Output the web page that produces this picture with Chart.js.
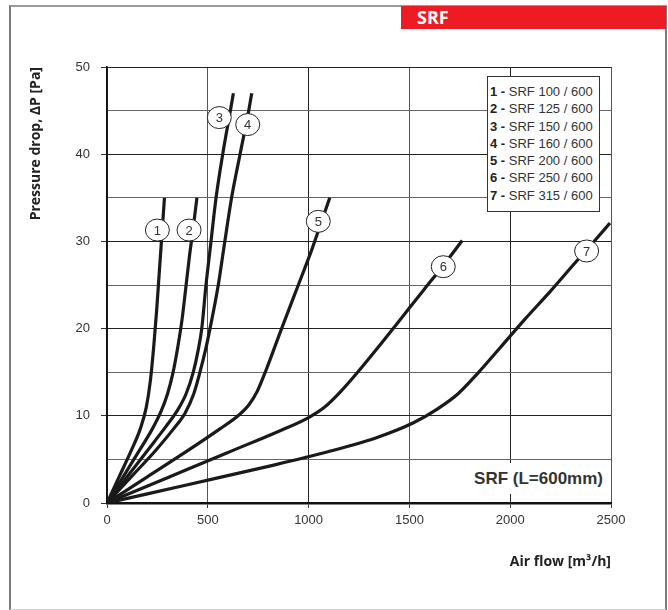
<!DOCTYPE html>
<html><head><meta charset="utf-8">
<script src="https://cdn.jsdelivr.net/npm/chart.js@4.4.1/dist/chart.umd.min.js"></script>
<style>
html,body{margin:0;padding:0;background:#fff;}
#wrap{position:relative;width:668px;height:610px;overflow:hidden;background:#fff;}
#c{position:absolute;left:0;top:0;}
#frame{position:absolute;left:9px;top:5px;width:658px;height:605px;border-left:2px solid #7a7a7a;border-top:2px solid #9a9a9a;border-right:2px solid #7a7a7a;border-bottom:1px solid #cfcfcf;box-sizing:border-box;pointer-events:none;}
#hdr{position:absolute;left:401px;top:6px;width:265px;height:23px;background:#ed1c24;color:#fff;font:bold 18px "Open Sans";line-height:23px;padding-left:16px;box-sizing:border-box;}
#legend{position:absolute;left:487px;top:76px;width:113px;height:136px;background:#fff;border:1px solid #333;box-sizing:border-box;padding:6px 0 0 2px;font:13px "Liberation Sans";color:#333;}
#legend div{height:17.3px;line-height:17.3px;white-space:nowrap;}
#legend b{font-weight:bold;color:#222;}
#note{position:absolute;left:467px;top:463px;width:141px;height:31px;background:#fff;font:bold 17px "Liberation Sans";color:#333;line-height:31px;text-align:right;padding-right:5px;box-sizing:border-box;}
</style></head>
<body>
<div id="wrap">
<canvas id="c" width="668" height="610"></canvas>
<div id="frame"></div>
<div id="hdr">SRF</div>
<div id="legend"></div>
<div id="note">SRF (L=600mm)</div>
</div>
<script>
// Air flow [m3/h] and pressure drop [Pa] for each model
const flow1 = [0, 60, 120, 165, 195, 215, 232, 246, 258, 270, 285];
const drop1 = [0, 3, 6, 8.5, 11, 14, 18, 22, 26, 30, 35];
const flow2 = [0, 80, 160, 225, 268, 300, 328, 352, 372, 390, 410, 430, 446];
const drop2 = [0, 3, 6, 8.5, 10.5, 12.5, 15, 18, 21, 24.5, 28.5, 32, 35];
const flow3 = [0, 100, 200, 290, 346, 392, 428, 452, 470, 491, 511, 541, 574, 612, 627];
const drop3 = [0, 3, 6, 8.7, 10.5, 12.5, 15, 17.5, 20, 25, 29, 35, 40, 45, 47];
const flow4 = [0, 120, 240, 330, 387, 430, 461, 490, 511, 552, 578, 618, 660, 703, 718];
const drop4 = [0, 3, 6, 8.5, 10.3, 12.5, 15, 17.7, 20, 25, 29, 35, 40, 45, 47];
const flow5 = [0, 200, 400, 560, 650, 705, 745, 790, 866, 949, 1015, 1060, 1105];
const drop5 = [0, 3, 6, 8.5, 10, 11.3, 12.8, 15.3, 20, 25, 29, 32, 35];
const flow6 = [0, 300, 600, 850, 1000, 1080, 1160, 1240, 1350, 1460, 1570, 1670, 1762];
const drop6 = [0, 2.9, 5.8, 8.2, 9.8, 11, 12.8, 14.9, 18, 21.2, 24.4, 27.3, 30.1];
const flow7 = [0, 400, 800, 1100, 1350, 1520, 1640, 1740, 1840, 1950, 2070, 2200, 2320, 2420, 2495];
const drop7 = [0, 2.1, 4.2, 5.9, 7.6, 9.2, 10.8, 12.5, 14.9, 17.8, 21, 24.3, 27.5, 30.1, 32.1];

const seriesNames = ['SRF 100 / 600','SRF 125 / 600','SRF 150 / 600','SRF 160 / 600','SRF 200 / 600','SRF 250 / 600','SRF 315 / 600'];
const seriesNumbers = ['1','2','3','4','5','6','7'];
// where the numbered circle marks sit, in data units
const labelFlow = [250, 407, 557, 698, 1048, 1668, 2379];
const labelDrop = [31.3, 31.3, 44.2, 43.4, 32.3, 27.1, 28.9];

const xTicks = [0, 500, 1000, 1500, 2000, 2500];
const yTicks = [0, 10, 20, 30, 40, 50];

const flows = [flow1, flow2, flow3, flow4, flow5, flow6, flow7];
const drops = [drop1, drop2, drop3, drop4, drop5, drop6, drop7];

// HTML legend
const lg = document.getElementById('legend');
seriesNames.forEach((n, i) => {
  const d = document.createElement('div');
  d.innerHTML = '<b>' + seriesNumbers[i] + ' -</b> ' + n;
  lg.appendChild(d);
});

const circleLabels = {
  id: 'circleLabels',
  afterDatasetsDraw(chart) {
    const {ctx, scales: {x, y}} = chart;
    ctx.save();
    for (let i = 0; i < labelFlow.length; i++) {
      const px = x.getPixelForValue(labelFlow[i]);
      const py = y.getPixelForValue(labelDrop[i]);
      ctx.beginPath();
      ctx.ellipse(px, py, 12, 11, 0, 0, Math.PI * 2);
      ctx.fillStyle = '#fff';
      ctx.fill();
      ctx.lineWidth = 1;
      ctx.strokeStyle = '#222';
      ctx.stroke();
      ctx.fillStyle = '#333';
      ctx.font = '13px "Liberation Sans"';
      ctx.textAlign = 'center';
      ctx.textBaseline = 'middle';
      ctx.fillText(seriesNumbers[i], px, py + 1);
    }
    ctx.restore();
  }
};

new Chart(document.getElementById('c'), {
  type: 'line',
  data: {
    datasets: flows.map((f, i) => ({
      label: seriesNames[i],
      data: f.map((v, k) => ({x: v, y: drops[i][k]})),
      borderColor: '#1a1a1a',
      borderWidth: 3.2,
      pointRadius: 0,
      cubicInterpolationMode: 'monotone',
      fill: false
    }))
  },
  options: {
    responsive: false,
    animation: false,
    devicePixelRatio: 1,
    layout: {padding: {left: 0, right: 57, top: 67, bottom: 0}},
    plugins: {legend: {display: false}, tooltip: {enabled: false}},
    scales: {
      x: {
        type: 'linear', min: 0, max: 2500,
        afterBuildTicks: s => { s.ticks = xTicks.map(v => ({value: v})); },
        ticks: {color: '#333', font: {family: 'Liberation Sans', size: 13}, padding: 5, maxRotation: 0, autoSkip: false,
          callback: v => String(v)},
        grid: {color: c => (c.tick && c.tick.value % 1000 === 0) ? '#222' : '#555', lineWidth: 1, tickLength: 5, tickColor: '#333'},
        border: {color: '#111', width: 2.5},
        title: {display: true, text: 'Air flow [m³/h]', align: 'end', color: '#222', font: {family: 'Open Sans', weight: 'bold', size: 14}, padding: {top: 0, bottom: 39.6}},
        afterFit: s => { s.height = 107; }
      },
      y: {
        type: 'linear', min: 0, max: 50,
        afterBuildTicks: s => {
          const t = [];
          for (let v = 0; v <= 50; v += 5) t.push({value: v});
          s.ticks = t;
        },
        ticks: {color: '#333', font: {family: 'Liberation Sans', size: 13}, padding: 11, autoSkip: false,
          callback: v => yTicks.includes(v) ? String(v) : ''},
        grid: {color: c => (c.tick && c.tick.value % 10 === 0) ? '#222' : '#666', lineWidth: 1, tickLength: 6,
          tickColor: c => (c.tick && c.tick.value % 10 === 0) ? '#333' : 'rgba(0,0,0,0)'},
        border: {color: '#111', width: 1.5},
        title: {display: true, text: 'Pressure drop, ∆P [Pa]', align: 'end', color: '#222', font: {family: 'Open Sans', weight: 'bold', size: 14}, padding: {top: 27.6, bottom: 0}},
        afterFit: s => { s.width = 107; }
      }
    }
  },
  plugins: [circleLabels]
});
</script>
</body></html>
